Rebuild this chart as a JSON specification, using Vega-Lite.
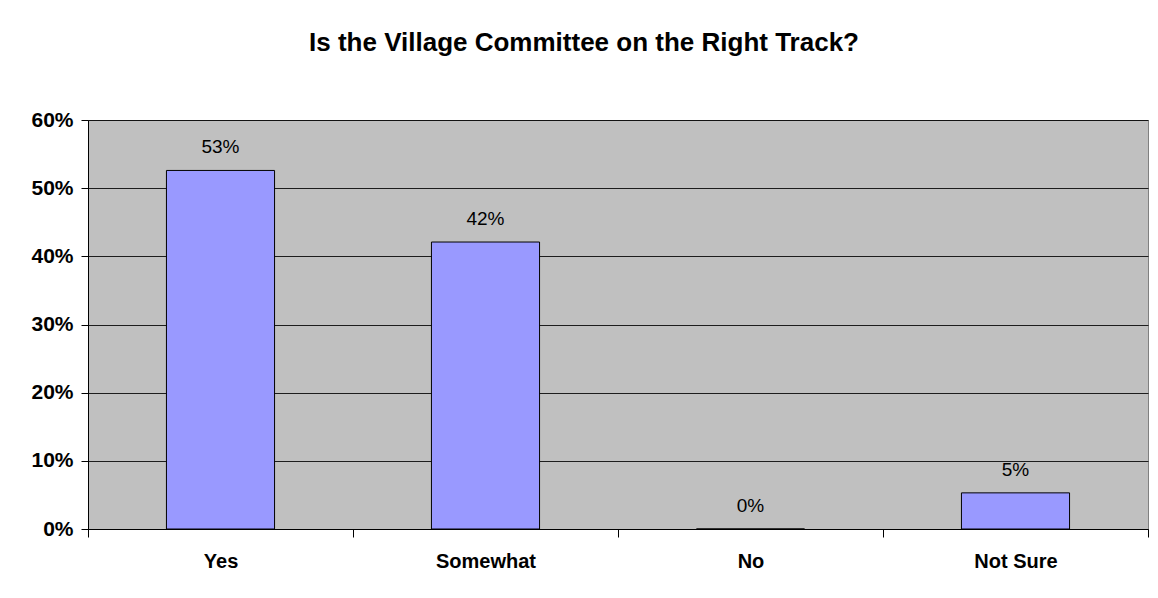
{
  "$schema": "https://vega.github.io/schema/vega-lite/v6.json",
  "width": 1060,
  "height": 409,
  "autosize": {"type": "none"},
  "padding": {"left": 88, "top": 120, "right": 10, "bottom": 69},
  "background": "white",
  "title": {
    "text": "Is the Village Committee on the Right Track?",
    "font": "Liberation Sans",
    "fontSize": 26,
    "fontWeight": "bold",
    "color": "black",
    "anchor": "middle",
    "frame": "group",
    "dx": -34,
    "baseline": "alphabetic",
    "offset": 32
  },
  "config": {
    "view": {"fill": "#C0C0C0", "stroke": "#808080", "strokeWidth": 1},
    "font": "Liberation Sans"
  },
  "data": {
    "values": [
      {"answer": "Yes", "pct": 0.526},
      {"answer": "Somewhat", "pct": 0.421},
      {"answer": "No", "pct": 0.0},
      {"answer": "Not Sure", "pct": 0.053}
    ]
  },
  "encoding": {
    "x": {
      "field": "answer",
      "type": "nominal",
      "sort": null,
      "scale": {"paddingInner": 0, "paddingOuter": 0},
      "axis": {
        "title": null,
        "labelAngle": 0,
        "labelFont": "Liberation Sans",
        "labelFontSize": 20,
        "labelFontWeight": "bold",
        "labelColor": "black",
        "labelPadding": 14,
        "tickBand": "extent",
        "tickSize": 8,
        "tickColor": "#000000",
        "domainColor": "#000000",
        "grid": false
      }
    },
    "y": {
      "field": "pct",
      "type": "quantitative",
      "scale": {"domain": [0, 0.6], "nice": false},
      "axis": {
        "title": null,
        "values": [0, 0.1, 0.2, 0.3, 0.4, 0.5, 0.6],
        "format": ".0%",
        "labelFont": "Liberation Sans",
        "labelFontSize": 21,
        "labelFontWeight": "bold",
        "labelColor": "black",
        "labelPadding": 8,
        "tickSize": 7,
        "tickColor": "#000000",
        "domainColor": "#000000",
        "grid": true,
        "gridColor": "#000000",
        "gridOpacity": 0.85
      }
    }
  },
  "layer": [
    {
      "mark": {"type": "bar", "color": "#9999FF", "stroke": "#000000", "strokeWidth": 1, "width": {"band": 0.408}}
    },
    {
      "mark": {"type": "text", "font": "Liberation Sans", "fontSize": 19, "color": "black", "baseline": "alphabetic", "dy": -17},
      "encoding": {
        "text": {"field": "pct", "type": "quantitative", "format": ".0%"}
      }
    }
  ]
}
